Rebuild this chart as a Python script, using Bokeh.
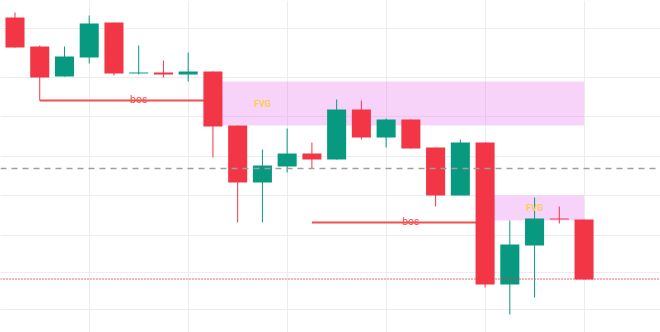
from bokeh.plotting import figure
from bokeh.models import Range1d, FixedTicker, Grid, Span
from bokeh.core.properties import value
from bokeh.embed import file_html
from bokeh.resources import INLINE

# ---- data (price units) ----
idx = list(range(24))
opens  = [31.5, 28.6, 25.6, 27.5, 31.0, 25.9, 26.0, 25.8, 26.1, 20.7, 15.0, 16.6,
          17.9, 17.3, 22.3, 19.5, 21.3, 18.5, 13.7, 19.0, 4.8, 8.7, 11.4, 11.3]
highs  = [32.0, 28.7, 28.6, 31.7, 31.0, 28.7, 27.2, 28.0, 26.1, 20.7, 18.3, 20.4,
          19.0, 23.3, 23.2, 21.4, 21.3, 18.5, 19.3, 19.0, 11.2, 13.5, 12.6, 11.3]
lows   = [28.5, 23.2, 25.6, 26.9, 25.7, 25.8, 25.5, 25.1, 17.5, 11.0, 11.0, 16.0,
          16.4, 17.3, 19.3, 18.5, 18.4, 12.6, 13.7, 4.5, 1.8, 3.5, 10.9, 5.3]
closes = [28.5, 25.5, 27.6, 30.9, 25.9, 26.0, 25.8, 26.1, 20.6, 15.0, 16.7, 17.9,
          17.3, 22.3, 19.5, 21.3, 18.4, 13.7, 19.0, 4.8, 8.8, 11.4, 11.3, 5.3]

grid_y = [30.45, 25.55, 21.65, 17.65, 13.75, 9.75, 6.05, 2.35]
grid_x = [3, 7, 11, 15, 19, 23]

fvg_start = [8, 19]
fvg_end = [23, 23]
fvg_label = ["FVG", "FVG"]

bos_start = [1, 12]
bos_end = [8, 19]
bos_level = [23.2, 11.0]
bos_label_x = [5, 16]
bos_label = ["bos", "bos"]

mid_level = 16.4
last_price = 5.35

# ---- styles ----
UP = "#089981"
DOWN = "#f23645"

p = figure(width=660, height=332, x_range=Range1d(-0.586, 26.09),
           y_range=Range1d(0, 33.2), output_backend="svg", toolbar_location=None,
           x_axis_location=None, y_axis_location=None, min_border=0,
           outline_line_color=None, background_fill_color="white",
           border_fill_color="white")
for g in list(p.center):
    if isinstance(g, Grid):
        p.center.remove(g)

p.add_layout(Grid(dimension=0, ticker=FixedTicker(ticks=grid_x),
                  grid_line_color="#ececec", grid_line_width=1))
p.add_layout(Grid(dimension=1, ticker=FixedTicker(ticks=grid_y),
                  grid_line_color="#ededed", grid_line_width=1))

# FVG boxes
fvg_top = [lows[s - 1] for s in fvg_start]
fvg_bottom = [highs[s + 1] for s in fvg_start]
p.quad(left=fvg_start, right=fvg_end, top=fvg_top, bottom=fvg_bottom,
       fill_color="#e878f0", fill_alpha=0.33, line_color=None)

# BOS lines
p.segment(x0=bos_start, y0=bos_level, x1=bos_end, y1=bos_level,
          line_color="#f05050", line_width=2)

# last price dotted line
p.add_layout(Span(location=last_price, dimension="width", line_color=DOWN,
                  line_width=1.5, line_dash="1 2"))

# candles
colors = [UP if c >= o else DOWN for o, c in zip(opens, closes)]
p.segment(x0=idx, y0=highs, x1=idx, y1=lows, line_color=colors, line_width=1)
p.vbar(x=idx, width=0.77, top=[max(o, c) for o, c in zip(opens, closes)],
       bottom=[min(o, c) for o, c in zip(opens, closes)],
       fill_color=colors, line_color=None)

# gray dashed level
p.add_layout(Span(location=mid_level, dimension="width", line_color="#9e9e9e",
                  line_width=1.5, line_dash="6 5"))

# labels
p.text(x=[s + 2 for s in fvg_start],
       y=[(t + b) / 2 for t, b in zip(fvg_top, fvg_bottom)], text=fvg_label,
       text_align="center", text_baseline="middle", text_font=value("Roboto"),
       text_font_size="9px", text_font_style="bold", text_color="#f7cf4f")
p.text(x=bos_label_x, y=bos_level, text=bos_label, text_align="center",
       text_baseline="alphabetic", y_offset=-1, text_font=value("Roboto"),
       text_font_size="10.5px", text_color="#f04e4e")

open("out.html", "w").write(file_html(p, INLINE))
